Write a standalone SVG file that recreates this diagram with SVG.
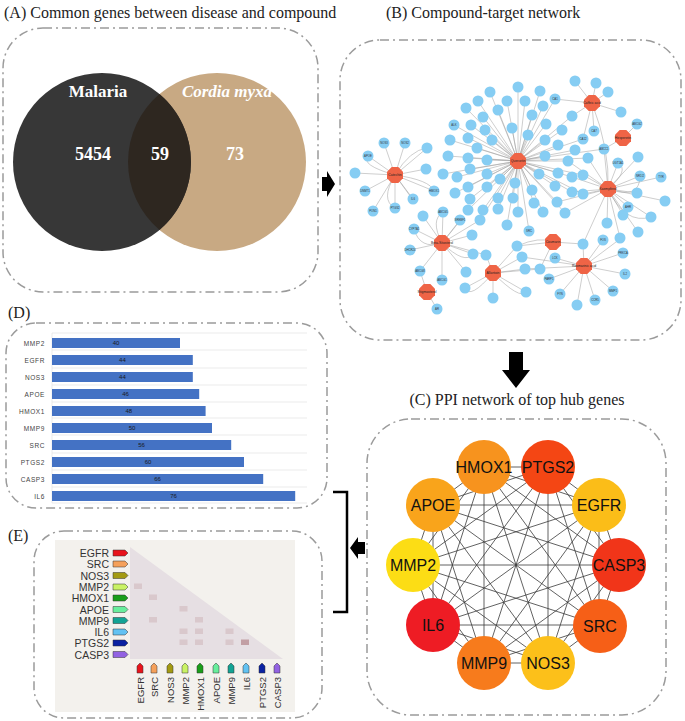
<svg xmlns="http://www.w3.org/2000/svg" xmlns:xlink="http://www.w3.org/1999/xlink" width="685" height="721" viewBox="0 0 685 721">
<style>
.box{fill:none;stroke:#9b9b9b;stroke-width:1.5;stroke-dasharray:9 4 2 4}
.ttl{font-family:"Liberation Serif",serif;font-size:16px;fill:#222}
.vn{font-family:"Liberation Serif",serif;font-weight:bold;fill:#fff;text-anchor:middle}
.lf{fill:#86cdf3}
.hub{fill:#ef6446}
.ne{stroke:#9c9c9c;stroke-width:0.5;fill:none}
.nl{font-family:"Liberation Sans",sans-serif;font-size:2.8px;fill:#333;text-anchor:middle}
.hl{font-family:"Liberation Sans",sans-serif;font-size:3.4px;fill:#222;text-anchor:middle}
.pe{stroke:#3a3a3a;stroke-width:0.8}
.pl{font-family:"Liberation Sans",sans-serif;font-size:16px;fill:#111;text-anchor:middle}
.bar{fill:#4472c4}
.grid{stroke:#e2e2e2;stroke-width:0.7}
.bl{font-family:"Liberation Sans",sans-serif;font-size:6.5px;fill:#444;text-anchor:end;letter-spacing:0.6px}
.bv{font-family:"Liberation Sans",sans-serif;font-size:6px;fill:#1a1a1a;text-anchor:middle}
.el{font-family:"Liberation Sans",sans-serif;font-size:10.5px;fill:#333;text-anchor:end}
.ec{font-family:"Liberation Sans",sans-serif;font-size:9.5px;fill:#333;text-anchor:end}
.tag{stroke:#333;stroke-width:0.5}
.cell{fill:#d9c8cc}
</style>
<defs>
<polygon id="oct" points="3.3,-8 8,-3.3 8,3.3 3.3,8 -3.3,8 -8,3.3 -8,-3.3 -3.3,-8"/>
</defs>

<!-- Panel A -->
<g id="panelA">
<text class="ttl" x="4" y="18">(A) Common genes between disease and compound</text>
<rect class="box" x="3" y="28" width="315" height="264" rx="40"/>
<circle cx="217" cy="162" r="89" fill="#c8a983"/>
<circle cx="102" cy="162" r="89" fill="#373737"/>
<path d="M159.5,94.1 A89,89 0 0,1 159.5,229.9 A89,89 0 0,1 159.5,94.1 Z" fill="#2e2720"/>
<text class="vn" x="98" y="97" font-size="17">Malaria</text>
<text class="vn" x="227" y="97" font-size="17" font-style="italic">Cordia myxa</text>
<text class="vn" x="93" y="160" font-size="18">5454</text>
<text class="vn" x="160" y="160" font-size="18">59</text>
<text class="vn" x="235" y="160" font-size="18">73</text>
</g>

<!-- Flow arrows -->
<g id="arrows">
<polygon points="322,177 327,177 327,171 335,184 327,197 327,191 322,191" fill="#000"/>
<polygon points="509,352 523,352 523,370 530,370 516,388 502,370 509,370" fill="#000"/>
<polygon points="365,542 358,542 358,537 350,548 358,559 358,554 365,554" fill="#000"/>
<path d="M333,492 H347 V612 H333" fill="none" stroke="#000" stroke-width="2.5"/>
</g>

<!-- Panel B -->
<g id="panelB">
<text class="ttl" x="386" y="18">(B) Compound-target network</text>
<rect class="box" x="340" y="40" width="341" height="300" rx="40"/>
<g id="connectors">
<path class="ne" d="M518,161 L518,87 M518,161 L540,91 M518,161 L490,92 M518,161 L507,101 M518,161 L525,101 M518,161 L543,106 M518,161 L478,101 M518,161 L466,108 M518,161 L498,110 M518,161 L483,117 M518,161 L532,115 M518,161 L546,124 M518,161 L454,125 M518,161 L471,125 M518,161 L485,130 M518,161 L512,128 M518,161 L528,135 M518,161 L545,140 M518,161 L562,130 M518,161 L450,140 M518,161 L468,138 M518,161 L492,140 M518,161 L477,148 M518,161 L558,145 M518,161 L575,150 M518,161 L448,156 M518,161 L468,158 M518,161 L487,160 M518,161 L545,156 M518,161 L568,161 M518,161 L588,158 M518,161 L443,174 M518,161 L457,177 M518,161 L470,169 M518,161 L487,174 M518,161 L500,179 M518,161 L539,174 M518,161 L558,173 M518,161 L572,177 M518,161 L583,175 M518,161 L455,193 M518,161 L468,187 M518,161 L487,187 M518,161 L498,198 M518,161 L515,183 M518,161 L532,190 M518,161 L555,186 M518,161 L572,192 M518,161 L583,194 M518,161 L470,199 M518,161 L483,210 M518,161 L498,209 M518,161 L513,198 M518,161 L518,212 M518,161 L534,203 M518,161 L543,212 M518,161 L468,210 M518,161 L480,220 M518,161 L507,225 M518,161 L529,231 M518,161 L565,213 M518,161 L557,202 M518,161 L555,99 M518,161 L572,116 M518,161 L583,139 M518,161 L604,149"/>
<path class="ne" d="M608,189 L618,163 M608,189 L638,157 M608,189 L640,176 M608,189 L661,177 M608,189 L637,193 M608,189 L665,201 M608,189 L628,207 M608,189 L651,217 M608,189 L623,215 M608,189 L607,223 M608,189 L638,232 M608,189 L620,238 M608,189 L572,177 M608,189 L583,175 M608,189 L572,192 M608,189 L583,194 M608,189 L604,149 M608,189 L583,244 M608,189 L565,213 M608,189 L557,202 M608,189 L588,158 M608,189 L568,161 M608,189 Q630,170 618,163 M608,189 Q640,200 640,176 M608,189 Q625,225 651,217"/>
<path class="ne" d="M592,103 L575,81 M592,103 L596,83 M592,103 L608,92 M592,103 L621,112 M592,103 L555,99 M592,103 L572,116 M592,103 L594,131 M592,103 L583,139 M592,103 Q610,150 608,189 M623,138 L637,124 M623,138 L604,149"/>
<path class="ne" d="M395,175 L384,143 M395,175 L405,143 M395,175 L427,148 M395,175 L368,156 M395,175 L355,173 M395,175 L426,169 M395,175 L365,191 M395,175 L434,191 M395,175 L373,211 M395,175 L395,208 M395,175 L413,199 M395,175 Q410,150 427,148 M395,175 Q430,180 434,191 M395,175 Q380,200 395,208 M395,175 Q420,210 413,199 M395,175 Q360,165 368,156"/>
<path class="ne" d="M442,243 L423,216 M442,243 L443,212 M442,243 L460,220 M442,243 L414,229 M442,243 L472,235 M442,243 L410,250 M442,243 L473,254 M442,243 L420,271 M442,243 L442,280 M442,243 L466,272 M442,243 L480,220 M442,243 L486,255 M442,243 Q430,220 443,212 M442,243 Q465,215 460,220 M442,243 Q420,250 414,229 M442,243 Q465,265 473,254 M427,292 L437,309 M427,292 L420,271"/>
<path class="ne" d="M493,273 L486,255 M493,273 L465,288 M493,273 L493,298 M493,273 L522,257 M493,273 L525,269 M493,273 L540,269 M493,273 L526,292 M493,273 L517,246 M493,273 Q470,300 465,288 M493,273 Q520,300 526,292 M553,242 L517,246 M553,242 L540,269 M553,242 L583,244 M584,266 L583,244 M584,266 L603,240 M584,266 L620,239 M584,266 L623,253 M584,266 L625,274 M584,266 L613,291 M584,266 L595,300 M584,266 L577,305 M584,266 L560,294 M584,266 L549,279 M584,266 L555,258 M584,266 L522,257 M584,266 L525,269 M517,246 Q540,236 553,242"/>
</g>
<g id="leaves">
<circle class="lf" cx="518" cy="87" r="5.5"/><circle class="lf" cx="540" cy="91" r="5.5"/><circle class="lf" cx="490" cy="92" r="5.5"/><circle class="lf" cx="507" cy="101" r="5.5"/><circle class="lf" cx="525" cy="101" r="5.5"/><circle class="lf" cx="543" cy="106" r="5.5"/><circle class="lf" cx="478" cy="101" r="5.5"/><circle class="lf" cx="466" cy="108" r="5.5"/><circle class="lf" cx="498" cy="110" r="5.5"/><circle class="lf" cx="483" cy="117" r="5.5"/><circle class="lf" cx="532" cy="115" r="5.5"/><circle class="lf" cx="546" cy="124" r="5.5"/><circle class="lf" cx="454" cy="125" r="5.5"/><circle class="lf" cx="471" cy="125" r="5.5"/><circle class="lf" cx="485" cy="130" r="5.5"/><circle class="lf" cx="512" cy="128" r="5.5"/><circle class="lf" cx="528" cy="135" r="5.5"/><circle class="lf" cx="545" cy="140" r="5.5"/><circle class="lf" cx="562" cy="130" r="5.5"/><circle class="lf" cx="450" cy="140" r="5.5"/><circle class="lf" cx="468" cy="138" r="5.5"/><circle class="lf" cx="492" cy="140" r="5.5"/><circle class="lf" cx="477" cy="148" r="5.5"/><circle class="lf" cx="558" cy="145" r="5.5"/><circle class="lf" cx="575" cy="150" r="5.5"/><circle class="lf" cx="448" cy="156" r="5.5"/><circle class="lf" cx="468" cy="158" r="5.5"/><circle class="lf" cx="487" cy="160" r="5.5"/><circle class="lf" cx="545" cy="156" r="5.5"/><circle class="lf" cx="568" cy="161" r="5.5"/><circle class="lf" cx="588" cy="158" r="5.5"/><circle class="lf" cx="443" cy="174" r="5.5"/><circle class="lf" cx="457" cy="177" r="5.5"/><circle class="lf" cx="470" cy="169" r="5.5"/><circle class="lf" cx="487" cy="174" r="5.5"/><circle class="lf" cx="500" cy="179" r="5.5"/><circle class="lf" cx="539" cy="174" r="5.5"/><circle class="lf" cx="558" cy="173" r="5.5"/><circle class="lf" cx="572" cy="177" r="5.5"/><circle class="lf" cx="583" cy="175" r="5.5"/><circle class="lf" cx="455" cy="193" r="5.5"/><circle class="lf" cx="468" cy="187" r="5.5"/><circle class="lf" cx="487" cy="187" r="5.5"/><circle class="lf" cx="498" cy="198" r="5.5"/><circle class="lf" cx="515" cy="183" r="5.5"/><circle class="lf" cx="532" cy="190" r="5.5"/><circle class="lf" cx="555" cy="186" r="5.5"/><circle class="lf" cx="572" cy="192" r="5.5"/><circle class="lf" cx="583" cy="194" r="5.5"/><circle class="lf" cx="470" cy="199" r="5.5"/><circle class="lf" cx="483" cy="210" r="5.5"/><circle class="lf" cx="498" cy="209" r="5.5"/><circle class="lf" cx="513" cy="198" r="5.5"/><circle class="lf" cx="518" cy="212" r="5.5"/><circle class="lf" cx="534" cy="203" r="5.5"/><circle class="lf" cx="543" cy="212" r="5.5"/><circle class="lf" cx="468" cy="210" r="5.5"/><circle class="lf" cx="480" cy="220" r="5.5"/><circle class="lf" cx="507" cy="225" r="5.5"/><circle class="lf" cx="529" cy="231" r="5.5"/><circle class="lf" cx="565" cy="213" r="5.5"/><circle class="lf" cx="557" cy="202" r="5.5"/>
<circle class="lf" cx="618" cy="163" r="5.5"/><circle class="lf" cx="638" cy="157" r="5.5"/><circle class="lf" cx="640" cy="176" r="5.5"/><circle class="lf" cx="661" cy="177" r="5.5"/><circle class="lf" cx="637" cy="193" r="5.5"/><circle class="lf" cx="665" cy="201" r="5.5"/><circle class="lf" cx="628" cy="207" r="5.5"/><circle class="lf" cx="651" cy="217" r="5.5"/><circle class="lf" cx="623" cy="215" r="5.5"/><circle class="lf" cx="607" cy="223" r="5.5"/><circle class="lf" cx="638" cy="232" r="5.5"/><circle class="lf" cx="620" cy="238" r="5.5"/>
<circle class="lf" cx="575" cy="81" r="5.5"/><circle class="lf" cx="596" cy="83" r="5.5"/><circle class="lf" cx="608" cy="92" r="5.5"/><circle class="lf" cx="621" cy="112" r="5.5"/><circle class="lf" cx="555" cy="99" r="5.5"/><circle class="lf" cx="572" cy="116" r="5.5"/><circle class="lf" cx="594" cy="131" r="5.5"/><circle class="lf" cx="583" cy="139" r="5.5"/><circle class="lf" cx="637" cy="124" r="5.5"/><circle class="lf" cx="604" cy="149" r="5.5"/>
<circle class="lf" cx="384" cy="143" r="5.5"/><circle class="lf" cx="405" cy="143" r="5.5"/><circle class="lf" cx="427" cy="148" r="5.5"/><circle class="lf" cx="368" cy="156" r="5.5"/><circle class="lf" cx="355" cy="173" r="5.5"/><circle class="lf" cx="426" cy="169" r="5.5"/><circle class="lf" cx="365" cy="191" r="5.5"/><circle class="lf" cx="434" cy="191" r="5.5"/><circle class="lf" cx="373" cy="211" r="5.5"/><circle class="lf" cx="395" cy="208" r="5.5"/><circle class="lf" cx="413" cy="199" r="5.5"/>
<circle class="lf" cx="423" cy="216" r="5.5"/><circle class="lf" cx="443" cy="212" r="5.5"/><circle class="lf" cx="460" cy="220" r="5.5"/><circle class="lf" cx="414" cy="229" r="5.5"/><circle class="lf" cx="472" cy="235" r="5.5"/><circle class="lf" cx="410" cy="250" r="5.5"/><circle class="lf" cx="473" cy="254" r="5.5"/><circle class="lf" cx="420" cy="271" r="5.5"/><circle class="lf" cx="442" cy="280" r="5.5"/><circle class="lf" cx="466" cy="272" r="5.5"/><circle class="lf" cx="437" cy="309" r="5.5"/>
<circle class="lf" cx="486" cy="255" r="5.5"/><circle class="lf" cx="465" cy="288" r="5.5"/><circle class="lf" cx="493" cy="298" r="5.5"/><circle class="lf" cx="522" cy="257" r="5.5"/><circle class="lf" cx="525" cy="269" r="5.5"/><circle class="lf" cx="540" cy="269" r="5.5"/><circle class="lf" cx="526" cy="292" r="5.5"/><circle class="lf" cx="517" cy="246" r="5.5"/>
<circle class="lf" cx="583" cy="244" r="5.5"/><circle class="lf" cx="603" cy="240" r="5.5"/><circle class="lf" cx="623" cy="253" r="5.5"/><circle class="lf" cx="625" cy="274" r="5.5"/><circle class="lf" cx="613" cy="291" r="5.5"/><circle class="lf" cx="595" cy="300" r="5.5"/><circle class="lf" cx="577" cy="305" r="5.5"/><circle class="lf" cx="560" cy="294" r="5.5"/><circle class="lf" cx="549" cy="279" r="5.5"/><circle class="lf" cx="555" cy="258" r="5.5"/>
</g>
<g id="leaf-labels">
<text class="nl" x="384" y="144">NOS3</text><text class="nl" x="405" y="144">NOS2</text><text class="nl" x="368" y="157">APOE</text><text class="nl" x="434" y="192">HMOX1</text><text class="nl" x="373" y="212">PON1</text><text class="nl" x="395" y="209">PTGS2</text><text class="nl" x="413" y="200">IL6</text><text class="nl" x="365" y="192">DNMT1</text>
<text class="nl" x="454" y="126">ALK</text><text class="nl" x="529" y="232">SRC</text><text class="nl" x="555" y="100">CA1</text><text class="nl" x="594" y="132">CA7</text><text class="nl" x="583" y="140">CA12</text><text class="nl" x="604" y="150">ABCC1</text><text class="nl" x="637" y="125">ABCG2</text>
<text class="nl" x="661" y="178">TYR</text><text class="nl" x="640" y="177">NR1I2</text><text class="nl" x="628" y="208">AHR</text><text class="nl" x="618" y="164">UGT1A1</text>
<text class="nl" x="443" y="213">ABCG5</text><text class="nl" x="460" y="221">SREBF1</text><text class="nl" x="414" y="230">CYP7A1</text><text class="nl" x="410" y="251">DHCR24</text><text class="nl" x="420" y="272">ABCG8</text><text class="nl" x="442" y="281">ABCG1</text><text class="nl" x="437" y="310">AR</text>
<text class="nl" x="603" y="241">FOS</text><text class="nl" x="623" y="254">PRKCA</text><text class="nl" x="625" y="275">IL2</text><text class="nl" x="613" y="292">MMP1</text><text class="nl" x="595" y="301">CCR5</text><text class="nl" x="560" y="295">FYN</text><text class="nl" x="549" y="280">PARP1</text><text class="nl" x="555" y="259">LCK</text>
</g>
<g id="hubs">
<use xlink:href="#oct" class="hub" transform="translate(518,161)"/>
<use xlink:href="#oct" class="hub" transform="translate(608,189)"/>
<use xlink:href="#oct" class="hub" transform="translate(592,103)"/>
<use xlink:href="#oct" class="hub" transform="translate(623,138)"/>
<use xlink:href="#oct" class="hub" transform="translate(395,175)"/>
<use xlink:href="#oct" class="hub" transform="translate(442,243)"/>
<use xlink:href="#oct" class="hub" transform="translate(427,292)"/>
<use xlink:href="#oct" class="hub" transform="translate(493,273)"/>
<use xlink:href="#oct" class="hub" transform="translate(553,242)"/>
<use xlink:href="#oct" class="hub" transform="translate(584,266)"/>
<text class="hl" x="518" y="162">Quercetin</text>
<text class="hl" x="608" y="190">Kaempferol</text>
<text class="hl" x="592" y="104">Caffeic acid</text>
<text class="hl" x="623" y="139">Hesperetin</text>
<text class="hl" x="395" y="176">Catechin</text>
<text class="hl" x="442" y="244">Beta-Sitosterol</text>
<text class="hl" x="427" y="293">Stigmasterol</text>
<text class="hl" x="493" y="274">Allantoin</text>
<text class="hl" x="553" y="243">Coumarin</text>
<text class="hl" x="584" y="267">Rosmarinic acid</text>
</g>
</g>

<!-- Panel C -->
<g id="panelC">
<text class="ttl" x="517" y="405" text-anchor="middle">(C) PPI network of top hub genes</text>
<rect class="box" x="367" y="419" width="299" height="296" rx="44"/>
<g id="ppi-edges">
<path class="pe" fill="none" d="M484,467 L548,467 M484,467 L599,505 M484,467 L619,565 M484,467 L599,625 M484,467 L548,663 M484,467 L484,663 M484,467 L433,625 M484,467 L413,565 M484,467 L433,505 M548,467 L599,505 M548,467 L619,565 M548,467 L599,625 M548,467 L548,663 M548,467 L484,663 M548,467 L433,625 M548,467 L413,565 M548,467 L433,505 M599,505 L619,565 M599,505 L599,625 M599,505 L548,663 M599,505 L484,663 M599,505 L433,625 M599,505 L413,565 M599,505 L433,505 M619,565 L599,625 M619,565 L548,663 M619,565 L484,663 M619,565 L433,625 M619,565 L413,565 M619,565 L433,505 M599,625 L548,663 M599,625 L484,663 M599,625 L433,625 M599,625 L413,565 M599,625 L433,505 M548,663 L484,663 M548,663 L433,625 M548,663 L413,565 M548,663 L433,505 M484,663 L433,625 M484,663 L413,565 M484,663 L433,505 M433,625 L413,565 M433,625 L433,505 M413,565 L433,505"/>
</g>
<g id="n-HMOX1"><circle cx="484" cy="467" r="27" fill="#f7931e"/><text class="pl" x="484" y="473">HMOX1</text></g>
<g id="n-PTGS2"><circle cx="548" cy="467" r="27" fill="#f44614"/><text class="pl" x="548" y="473">PTGS2</text></g>
<g id="n-EGFR"><circle cx="599" cy="505" r="27" fill="#fbbd18"/><text class="pl" x="599" y="511">EGFR</text></g>
<g id="n-CASP3"><circle cx="619" cy="565" r="27" fill="#f13519"/><text class="pl" x="619" y="571">CASP3</text></g>
<g id="n-SRC"><circle cx="600" cy="626" r="27" fill="#f65f17"/><text class="pl" x="600" y="632">SRC</text></g>
<g id="n-NOS3"><circle cx="548" cy="663" r="27" fill="#fcc01a"/><text class="pl" x="548" y="669">NOS3</text></g>
<g id="n-MMP9"><circle cx="484" cy="663" r="27" fill="#f77b1c"/><text class="pl" x="484" y="669">MMP9</text></g>
<g id="n-IL6"><circle cx="433" cy="625" r="27" fill="#ee1c24"/><text class="pl" x="433" y="631">IL6</text></g>
<g id="n-MMP2"><circle cx="413" cy="565" r="27" fill="#fcdd15"/><text class="pl" x="413" y="571">MMP2</text></g>
<g id="n-APOE"><circle cx="433" cy="505" r="27" fill="#f9a41b"/><text class="pl" x="433" y="511">APOE</text></g>
</g>

<!-- Panel D -->
<g id="panelD">
<text class="ttl" x="8" y="318">(D)</text>
<rect class="box" x="6" y="323" width="321" height="185" rx="30"/>
<path class="grid" d="M52,333 H307 M52,350 H307 M52,368 H307 M52,385 H307 M52,402 H307 M52,418 H307 M52,435 H307 M52,453 H307 M52,470 H307 M52,487 H307 M52,503 H307 M52,333 V503"/>
<rect class="bar" x="52" y="338" width="128" height="10"/>
<rect class="bar" x="52" y="355" width="140.8" height="10"/>
<rect class="bar" x="52" y="372" width="140.8" height="10"/>
<rect class="bar" x="52" y="389" width="147.2" height="10"/>
<rect class="bar" x="52" y="406" width="153.6" height="10"/>
<rect class="bar" x="52" y="423" width="160" height="10"/>
<rect class="bar" x="52" y="440" width="179.2" height="10"/>
<rect class="bar" x="52" y="457" width="192" height="10"/>
<rect class="bar" x="52" y="474" width="211.2" height="10"/>
<rect class="bar" x="52" y="491" width="243.2" height="10"/>
<text class="bl" x="45" y="345.5">MMP2</text>
<text class="bl" x="45" y="362.5">EGFR</text>
<text class="bl" x="45" y="379.5">NOS3</text>
<text class="bl" x="45" y="396.5">APOE</text>
<text class="bl" x="45" y="413.5">HMOX1</text>
<text class="bl" x="45" y="430.5">MMP9</text>
<text class="bl" x="45" y="447.5">SRC</text>
<text class="bl" x="45" y="464.5">PTGS2</text>
<text class="bl" x="45" y="481.5">CASP3</text>
<text class="bl" x="45" y="498.5">IL6</text>
<text class="bv" x="116" y="345">40</text>
<text class="bv" x="122.4" y="362">44</text>
<text class="bv" x="122.4" y="379">44</text>
<text class="bv" x="125.6" y="396">46</text>
<text class="bv" x="128.8" y="413">48</text>
<text class="bv" x="132" y="430">50</text>
<text class="bv" x="141.6" y="447">56</text>
<text class="bv" x="148" y="464">60</text>
<text class="bv" x="157.6" y="481">66</text>
<text class="bv" x="173.6" y="498">76</text>
</g>

<!-- Panel E -->
<g id="panelE">
<text class="ttl" x="8" y="541">(E)</text>
<rect class="box" x="34" y="531" width="288" height="187" rx="30"/>
<rect x="55" y="540" width="240" height="172" fill="#f3f1ed"/>
<polygon points="130,547 130,659 283,659" fill="#e6dfe3"/>
<g id="cells">
<rect class="cell" x="134" y="583.5" width="8" height="5.5"/>
<rect class="cell" x="149" y="594.5" width="8" height="5.5"/>
<rect class="cell" x="179.5" y="606" width="8" height="5.5"/>
<rect class="cell" x="149" y="617" width="8" height="5.5"/>
<rect class="cell" x="195" y="617" width="8" height="5.5"/>
<rect class="cell" x="179.5" y="628.5" width="8" height="5.5"/>
<rect class="cell" x="195" y="628.5" width="8" height="5.5"/>
<rect class="cell" x="225.5" y="628.5" width="8" height="5.5"/>
<rect class="cell" x="179.5" y="639.5" width="8" height="5.5"/>
<rect class="cell" x="195" y="639.5" width="8" height="5.5"/>
<rect class="cell" x="225.5" y="639.5" width="8" height="5.5"/>
<rect x="241" y="639.5" width="8" height="5.5" fill="#c29fa4"/>
</g>
<g id="row-labels">
<text class="el" x="109" y="557">EGFR</text>
<text class="el" x="109" y="568">SRC</text>
<text class="el" x="109" y="579.5">NOS3</text>
<text class="el" x="109" y="591">MMP2</text>
<text class="el" x="109" y="602">HMOX1</text>
<text class="el" x="109" y="613.5">APOE</text>
<text class="el" x="109" y="624.5">MMP9</text>
<text class="el" x="109" y="636">IL6</text>
<text class="el" x="109" y="647">PTGS2</text>
<text class="el" x="109" y="658.5">CASP3</text>
<polygon class="tag" fill="#e8141c" points="113,550 125,550 128,553 125,556 113,556"/>
<polygon class="tag" fill="#f5a05a" points="113,561 125,561 128,564 125,567 113,567"/>
<polygon class="tag" fill="#a39a12" points="113,572.5 125,572.5 128,575.5 125,578.5 113,578.5"/>
<polygon class="tag" fill="#c9f264" points="113,584 125,584 128,587 125,590 113,590"/>
<polygon class="tag" fill="#1a9e1a" points="113,595 125,595 128,598 125,601 113,601"/>
<polygon class="tag" fill="#68ee9c" points="113,606.5 125,606.5 128,609.5 125,612.5 113,612.5"/>
<polygon class="tag" fill="#12a394" points="113,617.5 125,617.5 128,620.5 125,623.5 113,623.5"/>
<polygon class="tag" fill="#62c2f2" points="113,629 125,629 128,632 125,635 113,635"/>
<polygon class="tag" fill="#0a22a2" points="113,640 125,640 128,643 125,646 113,646"/>
<polygon class="tag" fill="#9262e2" points="113,651.5 125,651.5 128,654.5 125,657.5 113,657.5"/>
</g>
<g id="col-labels">
<polygon class="tag" fill="#e8141c" points="137,673 137,666 140,663 143,666 143,673"/>
<polygon class="tag" fill="#f5a05a" points="151,673 151,666 154,663 157,666 157,673"/>
<polygon class="tag" fill="#a39a12" points="167,673 167,666 170,663 173,666 173,673"/>
<polygon class="tag" fill="#c9f264" points="182,673 182,666 185,663 188,666 188,673"/>
<polygon class="tag" fill="#1a9e1a" points="197,673 197,666 200,663 203,666 203,673"/>
<polygon class="tag" fill="#68ee9c" points="213,673 213,666 216,663 219,666 219,673"/>
<polygon class="tag" fill="#12a394" points="228,673 228,666 231,663 234,666 234,673"/>
<polygon class="tag" fill="#62c2f2" points="243,673 243,666 246,663 249,666 249,673"/>
<polygon class="tag" fill="#0a22a2" points="259,673 259,666 262,663 265,666 265,673"/>
<polygon class="tag" fill="#9262e2" points="274,673 274,666 277,663 280,666 280,673"/>
<text class="ec" transform="translate(143.5,677) rotate(-90)">EGFR</text>
<text class="ec" transform="translate(157.5,677) rotate(-90)">SRC</text>
<text class="ec" transform="translate(173.5,677) rotate(-90)">NOS3</text>
<text class="ec" transform="translate(188.5,677) rotate(-90)">MMP2</text>
<text class="ec" transform="translate(203.5,677) rotate(-90)">HMOX1</text>
<text class="ec" transform="translate(219.5,677) rotate(-90)">APOE</text>
<text class="ec" transform="translate(234.5,677) rotate(-90)">MMP9</text>
<text class="ec" transform="translate(249.5,677) rotate(-90)">IL6</text>
<text class="ec" transform="translate(265.5,677) rotate(-90)">PTGS2</text>
<text class="ec" transform="translate(280.5,677) rotate(-90)">CASP3</text>
</g>
</g>
</svg>
